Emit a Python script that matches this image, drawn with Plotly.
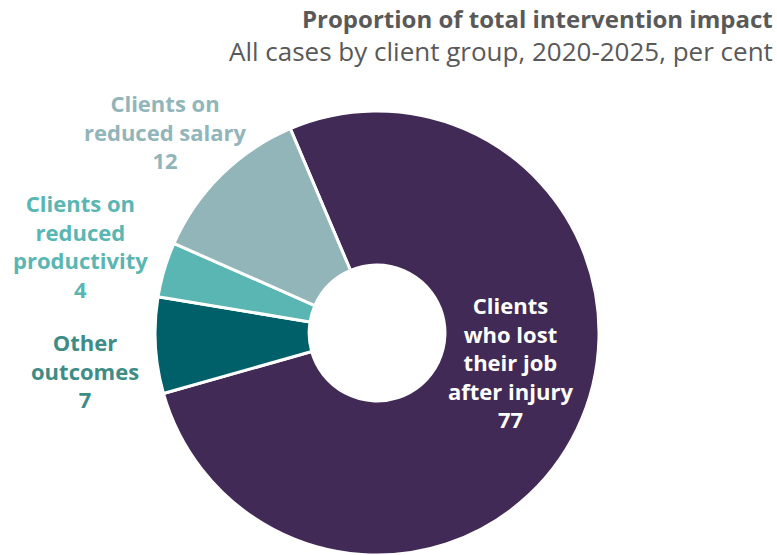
import plotly.graph_objects as go

# slices, clockwise from the top
labels = ["Clients<br>who lost<br>their job<br>after injury", "Other<br>outcomes",
          "Clients on<br>reduced<br>productivity", "Clients on<br>reduced salary"]
values = [77, 7, 4, 12]
colors = ["#412A55", "#00606A", "#5AB6B2", "#92B5BA"]
text_colors = ["#FFFFFF", "#3E8C86", "#5AB6B2", "#92B5BA"]

title = "Proportion of total intervention impact"
subtitle = "All cases by client group, 2020-2025, per cent"

FONT = "Open Sans"
W, H = 777, 555

fig = go.Figure(go.Pie(
    labels=labels, values=values, sort=False, direction="clockwise", rotation=337,
    hole=0.306, textinfo="none",
    marker=dict(colors=colors, line=dict(color="white", width=3)),
    domain=dict(x=[0.197, 0.7735], y=[0.0, 0.8]),
    showlegend=False, hoverinfo="label+value",
))

# label positions (pixels from top-left), one per slice
label_xy = [(510, 362), (85, 370), (80, 246), (165, 131)]
for lab, val, col, (px, py) in zip(labels, values, text_colors, label_xy):
    fig.add_annotation(
        x=px / W, y=1 - py / H, xref="paper", yref="paper",
        xanchor="center", yanchor="middle", align="center", showarrow=False,
        text=f"{lab}<br>{val}",
        font=dict(family=FONT, size=22, color=col, weight="bold"),
    )

fig.add_annotation(
    x=775 / W, y=1 - 19 / H, xref="paper", yref="paper", xanchor="right", yanchor="middle",
    align="right", showarrow=False, text=f"<b>{title}</b>",
    font=dict(family=FONT, size=24, color="#595959"),
)
fig.add_annotation(
    x=775 / W, y=1 - 51 / H, xref="paper", yref="paper", xanchor="right", yanchor="middle",
    align="right", showarrow=False, text=subtitle,
    font=dict(family=FONT, size=26, color="#595959"),
)

fig.update_layout(
    width=W, height=H,
    margin=dict(l=0, r=0, t=0, b=0),
    paper_bgcolor="white", plot_bgcolor="white",
)

# drop the browser's default body margin so the figure sits at the window's corner
fig.write_html("out.html", config={"displayModeBar": False},
               post_script="document.body.style.margin='0';")
